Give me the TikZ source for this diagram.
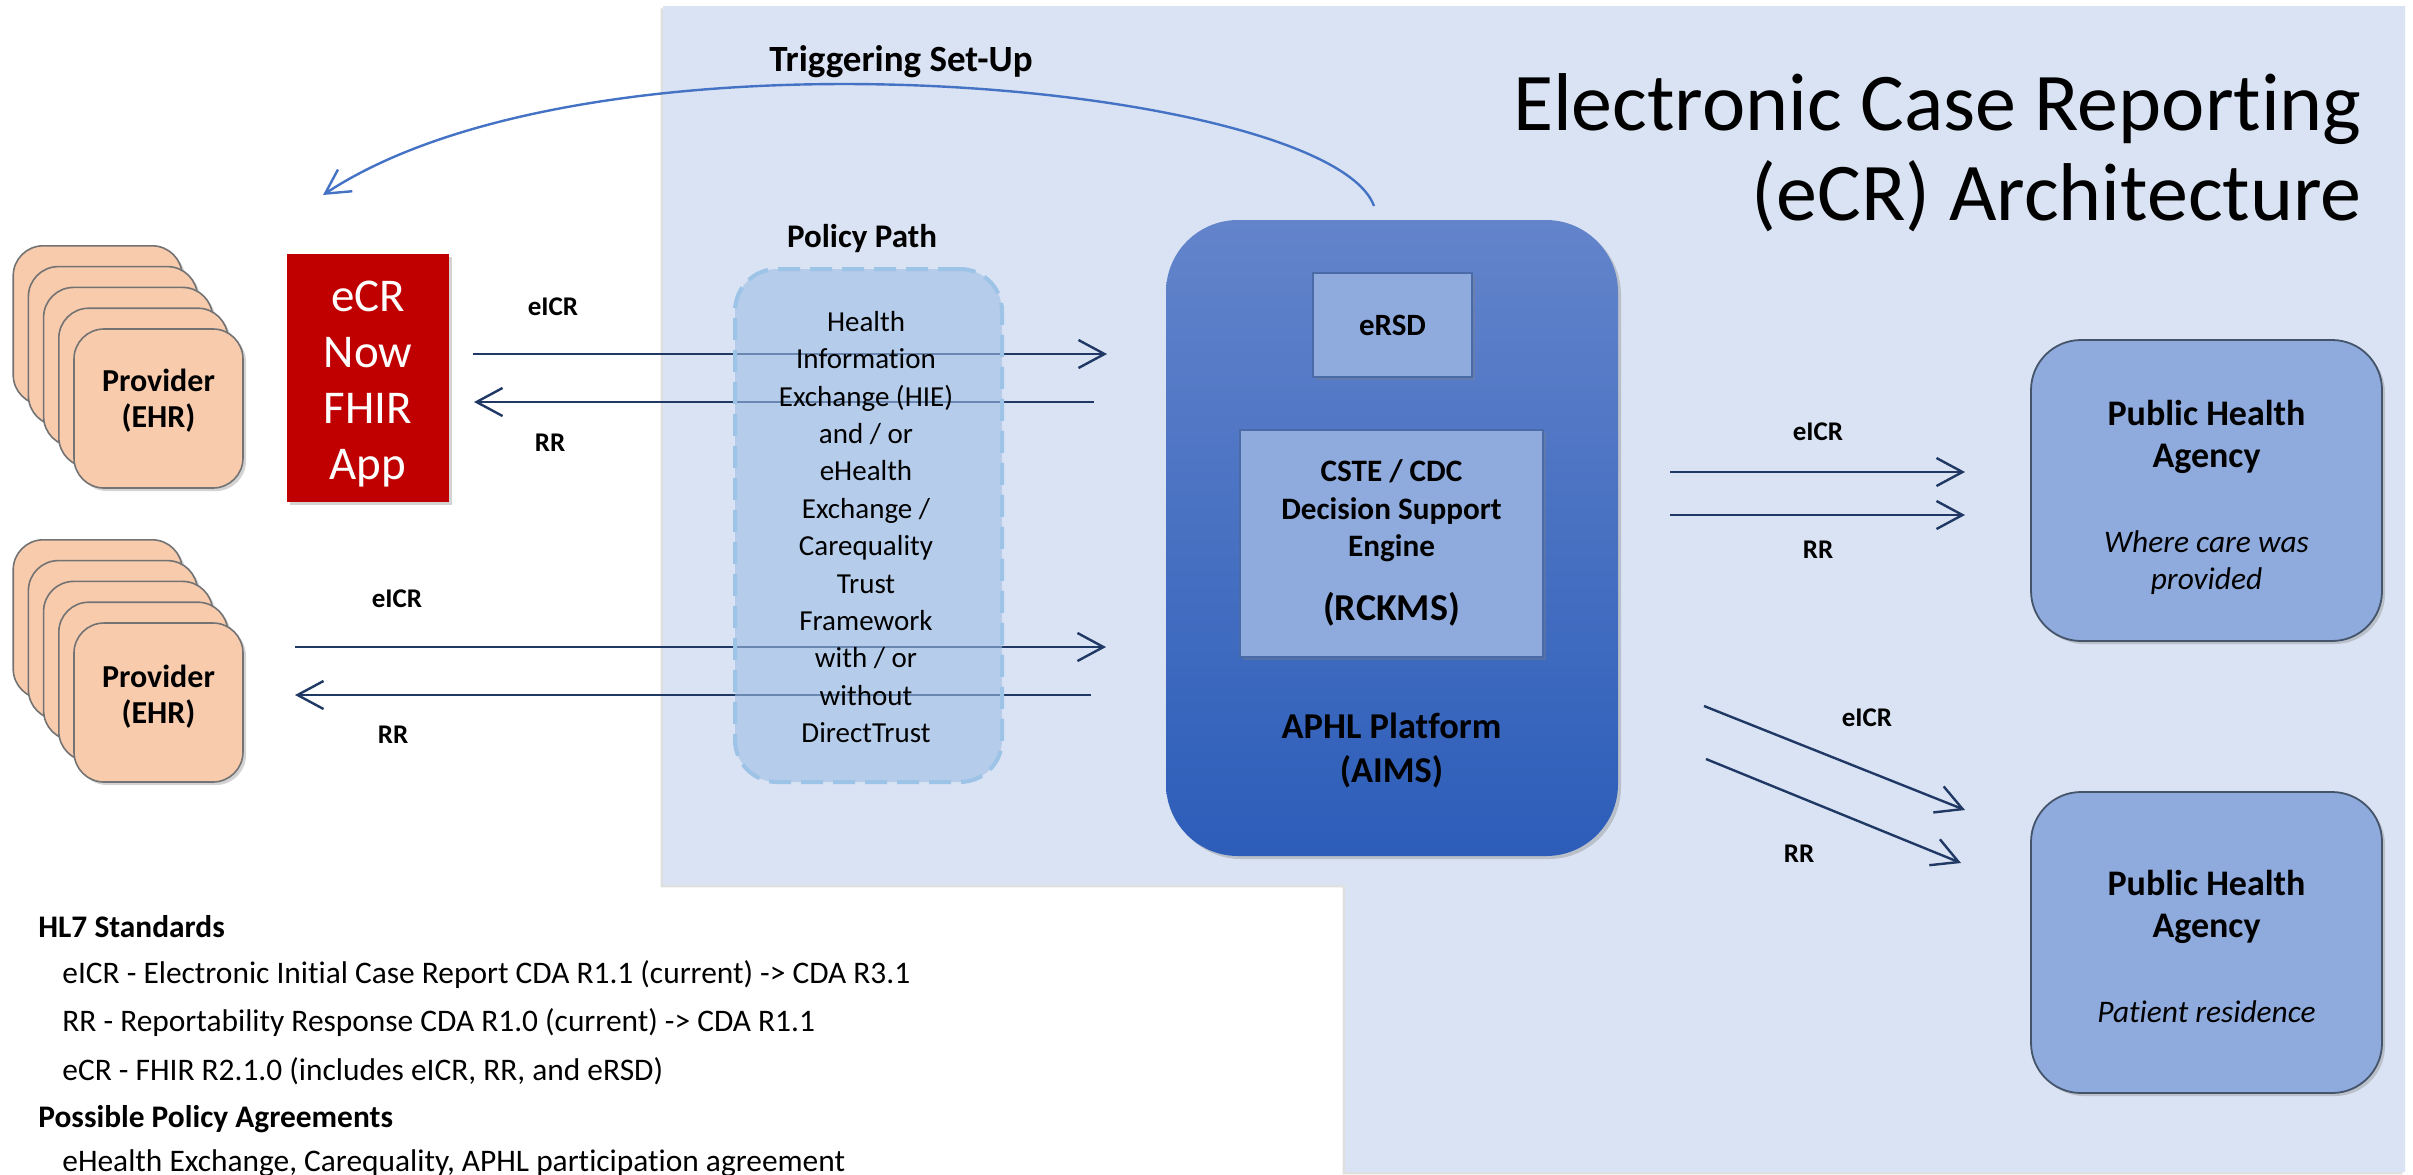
\documentclass[tikz,border=0pt]{standalone}
\usepackage{fontspec}
\setmainfont{Carlito}[Ligatures=NoCommon]
\usetikzlibrary{arrows.meta,shadows}
\definecolor{bgblue}{HTML}{DAE3F3}
\definecolor{navy}{HTML}{1F3864}
\definecolor{curveblue}{HTML}{4472C4}
\definecolor{peach}{HTML}{F8CBAD}
\definecolor{ecrred}{HTML}{C00000}
\definecolor{boxblue}{HTML}{8FAADC}
\definecolor{boxline}{HTML}{4A6AA8}
\definecolor{policyfill}{HTML}{9DBDE5}
\definecolor{policyline}{HTML}{9DC3E6}
\definecolor{aphltop}{HTML}{6384CB}
\definecolor{aphlbot}{HTML}{2C5DB9}
\definecolor{phaline}{HTML}{44546A}
\newcommand\myfs[2]{\fontsize{#1}{#2}\selectfont}
\begin{document}
\begin{tikzpicture}[x=0.5pt,y=-0.5pt,
  myshadow/.style={drop shadow={shadow xshift=1.5pt,shadow yshift=-1.5pt,opacity=0.35}},
  card/.style={draw=black!55, line width=0.8pt, fill=peach, rounded corners=15pt,
    minimum width=84.5pt, minimum height=79.5pt, inner sep=0pt, myshadow},
  cardtext/.style={font=\myfs{16}{18}\bfseries, align=center},
  flow/.style={draw=navy, line width=1.2pt, -{Straight Barb[length=13pt,width=14pt,line width=1.2pt]}},
  lbl/.style={font=\myfs{13.5}{16}\bfseries},
  inbox/.style={draw=boxline, line width=0.6pt, fill=boxblue, inner sep=0pt, myshadow},
  pha/.style={draw=phaline, line width=0.9pt, fill=boxblue, rounded corners=25pt,
    minimum width=175.5pt, minimum height=150.5pt, inner sep=0pt, myshadow},
  phatitle/.style={font=\myfs{18}{21}\bfseries, align=center},
  phasub/.style={font=\myfs{15.7}{18.5}\itshape, align=center},
  notes/.style={font=\myfs{15.7}{18}, anchor=west, inner sep=0pt},
  notesb/.style={font=\myfs{15.7}{18}\bfseries, anchor=west, inner sep=0pt}
]
\useasboundingbox (0,0) rectangle (2413,1174);
\clip (0,0) rectangle (2413,1174);

% background panel
\path[fill=bgblue, drop shadow={shadow xshift=-1.2pt,shadow yshift=-1.2pt,opacity=0.25}]
  (663,6) -- (2405,6) -- (2405,1172) -- (1345,1172) -- (1345,885) -- (663,885) -- cycle;

% title
\node[anchor=base east, font=\myfs{41}{45}, inner sep=0pt] (title1) at (2362,130) {Electronic Case Reporting};
\node[anchor=base east, font=\myfs{41}{45}, inner sep=0pt] (title2) at (2362,220) {(eCR) Architecture};

\node[font=\myfs{18.5}{21}\bfseries] (trig) at (901,62) {Triggering Set-Up};

% provider stacks
\foreach \k in {4,3,2,1} {
  \node[card] (pa\k) at (158.5-15.2*\k, 408.5-20.8*\k) {};
}
\node[card] (prov1) at (158.5,408.5) {};
\node[cardtext] (prov1t) at (158.5,401) {Provider\\(EHR)};

\foreach \k in {4,3,2,1} {
  \node[card] (pb\k) at (158.5-15.2*\k, 702.5-20.8*\k) {};
}
\node[card] (prov2) at (158.5,702.5) {};
\node[cardtext] (prov2t) at (158.5,697) {Provider\\(EHR)};

% eCR Now FHIR App
\node[fill=ecrred, minimum width=81pt, minimum height=124pt, inner sep=0pt, myshadow] (ecr) at (368,378) {};
\node[text=white, font=\myfs{23.5}{28}, align=center] (ecrt) at (368,384) {eCR\\Now\\FHIR\\App};

% APHL platform
\node[top color=aphltop, bottom color=aphlbot, rounded corners=36pt,
  minimum width=226pt, minimum height=318pt, inner sep=0pt, myshadow] (aphl) at (1392,538) {};
\node[inbox, minimum width=79.5pt, minimum height=52pt, font=\myfs{15.5}{18}\bfseries] (ersd) at (1392.5,325) {eRSD};
\node[inbox, minimum width=151.5pt, minimum height=113.5pt] (cste) at (1391.5,543.5) {};
\node[font=\myfs{15.6}{18.75}\bfseries, align=center] (cstet) at (1391.5,511) {CSTE / CDC\\Decision Support\\Engine};
\node[font=\myfs{19}{22}\bfseries] (rckms) at (1391.5,609) {(RCKMS)};
\node[font=\myfs{18.2}{22}\bfseries, align=center] (aphlt) at (1391.5,750) {APHL Platform\\(AIMS)};

% triggering curve
\coordinate (cs) at (1374,206);
\coordinate (ce) at (323,195);
\draw[draw=curveblue, line width=1.2pt, -{Straight Barb[length=12pt,width=13pt,line width=1.2pt]}]
  (cs) .. controls (1330,85) and (600,12) .. (ce);

% left arrows
\coordinate (t1s) at (473,354);  \coordinate (t1e) at (1107,354);
\coordinate (t2s) at (1094,402); \coordinate (t2e) at (474,402);
\coordinate (b1s) at (295,647);  \coordinate (b1e) at (1106,647);
\coordinate (b2s) at (1091,695); \coordinate (b2e) at (295,695);
\draw[flow] (t1s) -- (t1e);
\draw[flow] (t2s) -- (t2e);
\draw[flow] (b1s) -- (b1e);
\draw[flow] (b2s) -- (b2e);
\node[lbl] (lt1) at (553,307) {eICR};
\node[lbl] (lt2) at (550,443) {RR};
\node[lbl] (lb1) at (397,599) {eICR};
\node[lbl] (lb2) at (393,735) {RR};

% policy path
\node[font=\myfs{16.5}{20}\bfseries] (polt) at (862,239) {Policy Path};
\node[fill=policyfill, fill opacity=0.6, draw=policyline, line width=2pt,
  dash pattern=on 11pt off 5pt, rounded corners=21pt,
  minimum width=133.5pt, minimum height=256.5pt, inner sep=0pt] (pol) at (868.5,525.5) {};
\node[font=\myfs{14.5}{18.7}, align=center] (poltext) at (866,527) {Health\\Information\\Exchange (HIE)\\and / or\\eHealth\\Exchange /\\Carequality\\Trust\\Framework\\with / or\\without\\DirectTrust};

% public health agencies
\node[pha] (pha1) at (2206.5,490.5) {};
\node[phatitle] (pha1t) at (2206.5,437) {Public Health\\Agency};
\node[phasub] (pha1s) at (2206.5,563) {Where care was\\provided};
\node[pha] (pha2) at (2206.5,942.5) {};
\node[phatitle] (pha2t) at (2206.5,907) {Public Health\\Agency};
\node[phasub] (pha2s) at (2206.5,1012) {Patient residence};

% right arrows
\coordinate (r1s) at (1670,472); \coordinate (r1e) at (1965,472);
\coordinate (r2s) at (1670,515); \coordinate (r2e) at (1965,515);
\coordinate (d1s) at (1704,706); \coordinate (d1e) at (1965,810);
\coordinate (d2s) at (1706,759); \coordinate (d2e) at (1961,863);
\draw[flow] (r1s) -- (r1e);
\draw[flow] (r2s) -- (r2e);
\draw[flow] (d1s) -- (d1e);
\draw[flow] (d2s) -- (d2e);
\node[lbl] (lr1) at (1818,432) {eICR};
\node[lbl] (lr2) at (1818,550) {RR};
\node[lbl] (ld1) at (1867,718) {eICR};
\node[lbl] (ld2) at (1799,854) {RR};

% notes
\node[notesb] (n1) at (38,927) {HL7 Standards};
\node[notes] (n2) at (62,975) {eICR - Electronic Initial Case Report CDA R1.1 (current) -> CDA R3.1};
\node[notes] (n3) at (62,1023) {RR - Reportability Response CDA R1.0 (current) -> CDA R1.1};
\node[notes] (n4) at (62,1071) {eCR - FHIR R2.1.0 (includes eICR, RR, and eRSD)};
\node[notesb] (n5) at (38,1119) {Possible Policy Agreements};
\node[notes] (n6) at (62,1163) {eHealth Exchange, Carequality, APHL participation agreement};
\end{tikzpicture}
\end{document}
